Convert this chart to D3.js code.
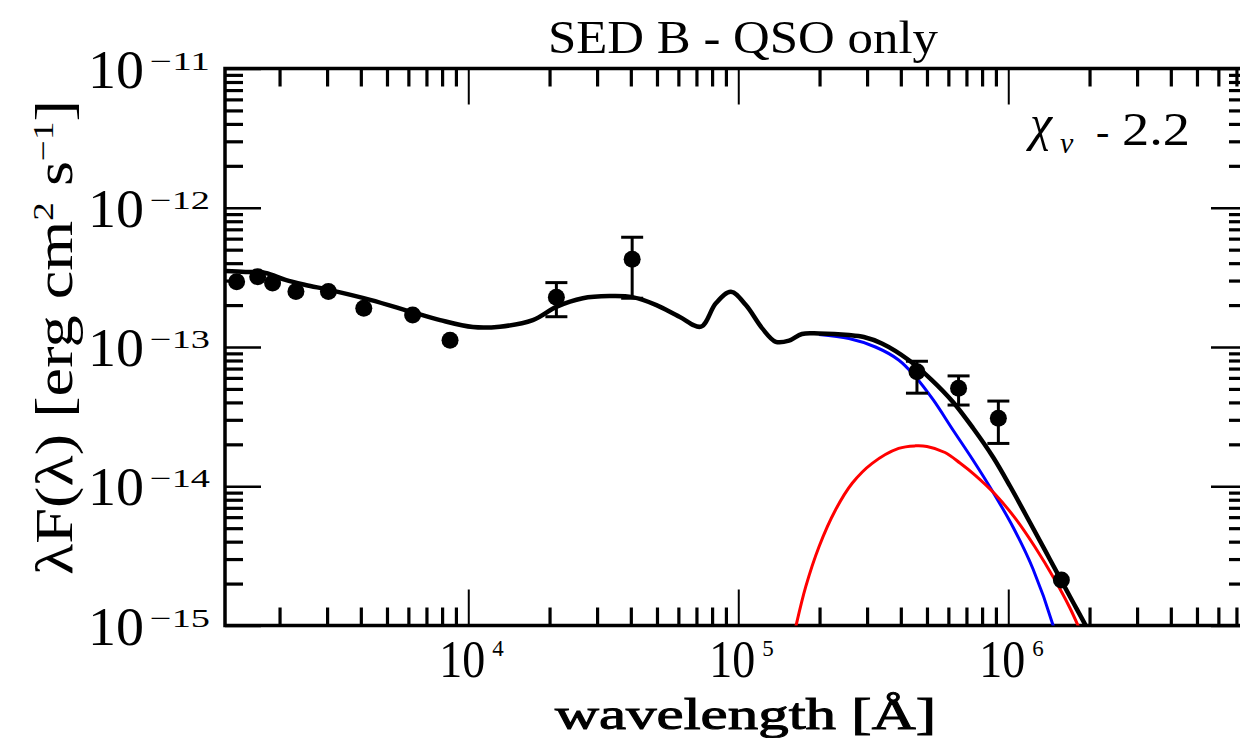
<!DOCTYPE html>
<html><head><meta charset="utf-8">
<script src="https://cdn.jsdelivr.net/npm/d3@7"></script>
<style>body{margin:0;background:#fff;} svg{display:block;}</style>
</head><body>
<svg id="c" width="1240" height="738"></svg>
<script>
// ---------- data ----------
const chartTitle = "SED B - QSO only";
const fitLabel = "2.2";

const xMajorTicks = [1e4, 1e5, 1e6];
const xMajorExp = ["4", "5", "6"];
const yMajorTicks = [1e-11, 1e-12, 1e-13, 1e-14, 1e-15];
const yMajorExp = ["\u221211", "\u221212", "\u221213", "\u221214", "\u221215"];

// observed photometry
const obsWave = [1387, 1660, 1884, 2300, 3034, 4102, 6223, 8560, 21200, 40460, 459000, 654600, 919000, 1573000];
const obsFlux = [2.94e-13, 3.20e-13, 2.88e-13, 2.50e-13, 2.50e-13, 1.90e-13, 1.70e-13, 1.12e-13, 2.28e-13, 4.27e-13, 6.65e-14, 5.05e-14, 3.08e-14, 2.12e-15];
const obsErrLo = [null, null, null, null, null, null, null, null, 1.65e-13, 2.24e-13, 4.66e-14, 3.83e-14, 2.03e-14, null];
const obsErrHi = [null, null, null, null, null, null, null, null, 2.90e-13, 6.14e-13, 7.9e-14, 6.2e-14, 4.09e-14, null];

// total model (black)
const totalWave = [1265, 1496, 1774, 2104, 2495, 3083, 4335, 6194, 7870, 10400, 13090, 17340, 21280, 26550, 33340, 40550, 49770, 60530, 72780, 82600, 93970, 106700, 122700, 137700, 154200, 172200, 199100, 257000, 291700, 340400, 427600, 521200, 624100, 740000, 877700, 1014600, 1203400, 1427000, 1692000, 1957000, 2059000];
const totalFlux = [3.52e-13, 3.46e-13, 3.40e-13, 3.03e-13, 2.79e-13, 2.56e-13, 2.18e-13, 1.78e-13, 1.56e-13, 1.39e-13, 1.40e-13, 1.56e-13, 1.95e-13, 2.24e-13, 2.32e-13, 2.28e-13, 2.00e-13, 1.65e-13, 1.40e-13, 2.06e-13, 2.49e-13, 2.00e-13, 1.36e-13, 1.09e-13, 1.11e-13, 1.24e-13, 1.25e-13, 1.22e-13, 1.18e-13, 1.06e-13, 8.07e-14, 5.79e-14, 4.03e-14, 2.62e-14, 1.622e-14, 1.004e-14, 5.49e-15, 2.98e-15, 1.615e-15, 9.59e-16, 7.87e-16];

// QSO component (blue)
const qsoWave = [199100, 257000, 322100, 392600, 452900, 527600, 624100, 740000, 877700, 1041000, 1235000, 1464000, 1528000];
const qsoFlux = [1.23e-13, 1.15e-13, 1.00e-13, 8.07e-14, 6.12e-14, 4.164e-14, 2.535e-14, 1.543e-14, 9.09e-15, 5.10e-15, 2.544e-15, 1.008e-15, 7.24e-16];

// second component (red)
const redWave = [160700, 163300, 177800, 199100, 229100, 264200, 313300, 392600, 452900, 500000, 583100, 662300, 752900, 892500, 1058800, 1256100, 1489000, 1692000, 1843000, 1924000];
const redFlux = [8.5e-16, 9.79e-16, 1.90e-15, 3.68e-15, 6.75e-15, 1.05e-14, 1.46e-14, 1.87e-14, 1.95e-14, 1.93e-14, 1.748e-14, 1.469e-14, 1.204e-14, 8.80e-15, 5.92e-15, 3.66e-15, 2.12e-15, 1.335e-15, 9.28e-16, 7.61e-16];

const xDomain = [1256, 7.66e6];
const yDomain = [1e-15, 1e-11];

// ---------- layout ----------
const L = 225, R = 1247, T = 68.5, B = 625.5;
const FONT = "'Liberation Serif', 'Times New Roman', serif";
const svg = d3.select("#c");

const x = d3.scaleLog().domain(xDomain).range([L, R]);
const y = d3.scaleLog().domain(yDomain).range([B, T]);

svg.append("defs").append("clipPath").attr("id", "clip")
  .append("rect").attr("x", L).attr("y", T).attr("width", R - L).attr("height", B - T);

// minor tick values
const xMinor = [];
for (let d = 3; d <= 6; d++) for (let k = 2; k <= 9; k++) { const v = k * Math.pow(10, d); if (v > xDomain[0] && v < xDomain[1]) xMinor.push(v); }
const yMinor = [];
for (let d = -15; d <= -12; d++) for (let k = 2; k <= 9; k++) yMinor.push(k * Math.pow(10, d));

function styleAxis(g, w) {
  g.select(".domain").remove();
  g.selectAll(".tick line").attr("stroke", "#000").attr("stroke-width", w);
  g.selectAll(".tick text").remove();
}
const axes = svg.append("g");
axes.append("g").attr("transform", `translate(0,${B})`).call(d3.axisBottom(x).tickValues(xMinor).tickSize(-18).tickFormat("")).call(styleAxis, 3.2);
axes.append("g").attr("transform", `translate(0,${B})`).call(d3.axisBottom(x).tickValues(xMajorTicks).tickSize(-36).tickFormat("")).call(styleAxis, 2);
axes.append("g").attr("transform", `translate(0,${T})`).call(d3.axisTop(x).tickValues(xMinor).tickSize(-18).tickFormat("")).call(styleAxis, 3.2);
axes.append("g").attr("transform", `translate(0,${T})`).call(d3.axisTop(x).tickValues(xMajorTicks).tickSize(-36).tickFormat("")).call(styleAxis, 2);
axes.append("g").attr("transform", `translate(${L},0)`).call(d3.axisLeft(y).tickValues(yMinor).tickSize(-18).tickFormat("")).call(styleAxis, 3.2);
axes.append("g").attr("transform", `translate(${L},0)`).call(d3.axisLeft(y).tickValues(yMajorTicks).tickSize(-36).tickFormat("")).call(styleAxis, 2.5);
axes.append("g").attr("transform", `translate(${R},0)`).call(d3.axisRight(y).tickValues(yMinor).tickSize(-18).tickFormat("")).call(styleAxis, 3.2);
axes.append("g").attr("transform", `translate(${R},0)`).call(d3.axisRight(y).tickValues(yMajorTicks).tickSize(-36).tickFormat("")).call(styleAxis, 2.5);

svg.append("rect").attr("x", L).attr("y", T).attr("width", R - L).attr("height", B - T)
  .attr("fill", "none").attr("stroke", "#000").attr("stroke-width", 3.5);

// ---------- curves ----------
const line = d3.line().x(d => x(d[0])).y(d => y(d[1])).curve(d3.curveCatmullRom.alpha(0.5));
const plot = svg.append("g").attr("clip-path", "url(#clip)");
plot.append("path").datum(qsoWave.map((w, i) => [w, qsoFlux[i]]))
  .attr("d", line).attr("fill", "none").attr("stroke", "#0000ff").attr("stroke-width", 3);
plot.append("path").datum(redWave.map((w, i) => [w, redFlux[i]]))
  .attr("d", line).attr("fill", "none").attr("stroke", "#ff0000").attr("stroke-width", 3);
plot.append("path").datum(totalWave.map((w, i) => [w, totalFlux[i]]))
  .attr("d", line).attr("fill", "none").attr("stroke", "#000").attr("stroke-width", 4.5).attr("stroke-linejoin", "round");

// ---------- data points ----------
const pts = obsWave.map((w, i) => ({ w, f: obsFlux[i], lo: obsErrLo[i], hi: obsErrHi[i] }));
const eb = plot.append("g").attr("stroke", "#000").attr("stroke-width", 3);
pts.filter(p => p.lo !== null).forEach(p => {
  const cx = x(p.w);
  eb.append("line").attr("x1", cx).attr("x2", cx).attr("y1", y(p.lo)).attr("y2", y(p.hi));
  eb.append("line").attr("x1", cx - 11).attr("x2", cx + 11).attr("y1", y(p.lo)).attr("y2", y(p.lo));
  eb.append("line").attr("x1", cx - 11).attr("x2", cx + 11).attr("y1", y(p.hi)).attr("y2", y(p.hi));
});
plot.append("g").selectAll("circle").data(pts).join("circle")
  .attr("cx", d => x(d.w)).attr("cy", d => y(d.f)).attr("r", 8.5).attr("fill", "#000");

// ---------- tick labels ----------
const lab = svg.append("g").attr("font-family", FONT).attr("fill", "#000");
yMajorTicks.forEach((v, i) => {
  const ty = y(v);
  lab.append("text").attr("x", 88).attr("y", ty + 19).attr("font-size", 54)
    .attr("textLength", 56).attr("lengthAdjust", "spacingAndGlyphs").text("10");
  lab.append("text").attr("x", 150).attr("y", ty + 1).attr("font-size", 26)
    .attr("textLength", 60).attr("lengthAdjust", "spacingAndGlyphs").text(yMajorExp[i]);
});
xMajorTicks.forEach((v, i) => {
  const tx = x(v);
  lab.append("text").attr("x", tx - 29).attr("y", B + 51).attr("font-size", 52)
    .attr("textLength", 46).attr("lengthAdjust", "spacingAndGlyphs").text("10");
  lab.append("text").attr("x", tx + 24).attr("y", B + 30).attr("font-size", 23).text(xMajorExp[i]);
});

// ---------- titles ----------
svg.append("text").attr("x", 548).attr("y", 53).attr("font-family", FONT).attr("font-size", 46)
  .attr("textLength", 390).attr("lengthAdjust", "spacingAndGlyphs").text(chartTitle);

svg.append("text").attr("x", 555).attr("y", 729).attr("font-family", FONT).attr("font-size", 44)
  .attr("stroke", "#000").attr("stroke-width", 1)
  .attr("textLength", 381).attr("lengthAdjust", "spacingAndGlyphs").text("wavelength [\u00C5]");

const yt = svg.append("text").attr("transform", "translate(72,575) rotate(-90)")
  .attr("font-family", FONT).attr("font-size", 52)
  .attr("textLength", 475).attr("lengthAdjust", "spacingAndGlyphs");
yt.append("tspan").text("\u03BBF(\u03BB) [erg cm");
yt.append("tspan").attr("dy", -19).attr("font-size", 30).text("2");
yt.append("tspan").attr("dy", 19).text(" s");
yt.append("tspan").attr("dy", -19).attr("font-size", 30).text("\u22121");
yt.append("tspan").attr("dy", 19).text("]");

// chi label
const chi = svg.append("g").attr("font-family", FONT).attr("fill", "#000");
chi.append("text").attr("x", 1030).attr("y", 140).attr("font-size", 50).attr("font-style", "italic").text("\u03C7");
chi.append("text").attr("x", 1060).attr("y", 153).attr("font-size", 30).attr("font-style", "italic").text("\u03BD");
chi.append("text").attr("x", 1096).attr("y", 145).attr("font-size", 40).text("-");
chi.append("text").attr("x", 1122).attr("y", 145).attr("font-size", 46)
  .attr("textLength", 68).attr("lengthAdjust", "spacingAndGlyphs").text(fitLabel);
</script>
</body></html>
